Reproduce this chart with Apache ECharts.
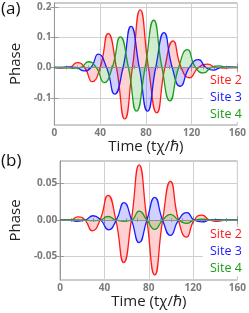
<!DOCTYPE html>
<html><head><meta charset="utf-8">
<script src="https://cdn.jsdelivr.net/npm/echarts@6/dist/echarts.min.js"></script>
<style>html,body{margin:0;padding:0;background:#fff}#c{width:249px;height:313px}</style>
</head><body><div id="c"></div>
<script>
// ---- data: [time, phase] at extrema and zero crossings ----
const timeTicks = [0, 40, 80, 120, 160];
const phaseTicksA = [-0.1, 0, 0.1, 0.2];
const phaseTicksB = [-0.05, 0, 0.05];
const siteNames = ['Site 2', 'Site 3', 'Site 4'];
const siteColors = ['#ff1a1a', '#1a1aff', '#1a9e1a'];

const a_site2 = [[0,0],[7,-0.002],[13,0],[20,0.016],[26.5,0],[33,-0.047],[40,0],[47,0.112],[54.2,0],[61.5,-0.17],[68.2,0],[75,0.19],[82.2,0],[89.5,-0.15],[96.6,0],[103.7,0.088],[110.8,0],[118,-0.034],[126,0],[134,0.011],[141,0],[148,-0.002],[155,0],[160,0]];
const a_site3 = [[0,0],[6,0],[12,0.002],[19,0],[25.6,-0.011],[32,0],[38.4,0.044],[45.6,0],[52.8,-0.088],[60,0],[67,0.136],[74.2,0],[81.4,-0.144],[88.6,0],[95.8,0.115],[103,0],[110,-0.062],[118,0],[126,0.026],[132.5,0],[139,-0.009],[145.5,0],[152,0.002],[160,0]];
const a_site4 = [[0,0],[9,0],[16,-0.003],[23,0],[29.7,0.019],[36.6,0],[43.5,-0.05],[50.6,0],[57.7,0.101],[64.7,0],[71.8,-0.144],[79.3,0],[86.8,0.156],[94,0],[101,-0.11],[108.6,0],[116.2,0.059],[123.4,0],[130.5,-0.018],[137.2,0],[144,0.005],[151,0],[160,0]];

const b_site2 = [[0,0],[9,0],[16,0.0046],[22.5,0],[29,-0.0147],[36,0],[43.3,0.034],[50.3,0],[57.4,-0.058],[64.3,0],[71.3,0.0757],[78.3,0],[85.4,-0.075],[92.5,0],[99.6,0.053],[106.8,0],[114,-0.0234],[121,0],[128,0.0069],[135,0],[142,-0.0015],[150,0],[160,0]];
const b_site3 = [[0,0],[8,0],[15,-0.0015],[22.5,0],[29.7,0.006],[36.7,0],[43.8,-0.0133],[50.7,0],[57.7,0.0239],[64.5,0],[71.3,-0.0307],[78.3,0],[85.4,0.0312],[92.5,0],[99.6,-0.021],[106.8,0],[114.5,0.0103],[121,0],[128,-0.0025],[135,0],[142,0.0008],[150,0],[160,0]];
const b_site4 = [[0,0],[16,0.0003],[22.5,0],[29,-0.0008],[36,0],[43.3,0.005],[50.3,0],[57.4,-0.0015],[64.3,0],[71.3,0.0124],[78.3,0],[85.4,-0.0127],[92.5,0],[99.6,0.0079],[106.8,0],[114,-0.0044],[121,0],[128,0.0012],[135,0],[160,0]];

const chart = echarts.init(document.getElementById('c'), null, {renderer: 'canvas'});
const labelFont = {color: '#7a7a7a', fontWeight: 'bold', fontSize: 10, fontFamily: 'Open Sans'};
const titleFont = {color: '#222', fontSize: 15, fontFamily: 'Open Sans'};

function xAx(gi) {
  return {
    type: 'value', gridIndex: gi, min: 0, max: 160, interval: 40,
    name: 'Time (tχ/ℏ)', nameLocation: 'middle', nameGap: gi === 0 ? 12 : 13,
    nameTextStyle: titleFont,
    axisLine: {show: true, lineStyle: {color: '#999', width: 1}},
    axisTick: {show: true, inside: true, length: 4, lineStyle: {color: '#999'}},
    minorTick: {show: true, splitNumber: 4, length: 2, lineStyle: {color: '#aaa'}},
    axisLabel: Object.assign({margin: 3, formatter: v => timeTicks.includes(v) ? String(v) : ''}, labelFont),
    splitLine: {show: true, lineStyle: {color: '#d0d0d0', width: 1}}
  };
}
function xTop(gi) {
  return {
    type: 'value', gridIndex: gi, position: 'top', min: 0, max: 160, interval: 40,
    axisLine: {show: true, lineStyle: {color: '#999', width: 1}},
    axisTick: {show: true, inside: true, length: 4, lineStyle: {color: '#999'}},
    minorTick: {show: true, splitNumber: 4, length: 2, lineStyle: {color: '#aaa'}},
    axisLabel: {show: false}, splitLine: {show: false}
  };
}
function yAx(gi, min, max, ticks, dec) {
  return {
    type: 'value', gridIndex: gi, min: min, max: max,
    name: 'Phase', nameLocation: 'middle', nameGap: 27, nameRotate: 90,
    nameTextStyle: titleFont,
    axisLine: {show: true, lineStyle: {color: '#999', width: 1}},
    axisTick: {show: true, inside: true, length: 4, customValues: ticks, lineStyle: {color: '#999'}},
    axisLabel: Object.assign({margin: 3, customValues: ticks, formatter: v => v.toFixed(dec)}, labelFont),
    splitLine: {show: true, lineStyle: {color: '#d0d0d0', width: 1}}
  };
}
function yRight(gi, min, max, ticks) {
  return {
    type: 'value', gridIndex: gi, position: 'right', min: min, max: max,
    axisLine: {show: true, lineStyle: {color: '#999', width: 1}},
    axisTick: {show: true, inside: true, length: 4, customValues: ticks, lineStyle: {color: '#999'}},
    axisLabel: {show: false, customValues: ticks}, splitLine: {show: false}
  };
}
function ser(name, data, i, gi, zeroLine) {
  const s = {
    name: name, type: 'line', xAxisIndex: gi, yAxisIndex: gi, data: data,
    smooth: 0.55, showSymbol: false, symbol: 'none',
    lineStyle: {color: siteColors[i], width: 1.3},
    itemStyle: {color: siteColors[i]},
    areaStyle: {color: siteColors[i], opacity: 0.2, origin: 0},
    z: 2 + i
  };
  if (zeroLine) {
    s.markLine = {silent: true, symbol: 'none', label: {show: false},
      lineStyle: {color: '#999', type: 'solid', width: 1.2, opacity: 0.6}, data: [{yAxis: 0}]};
  }
  return s;
}
function leg(top) {
  return {
    orient: 'vertical', left: 203, top: top, padding: [1, 2, 1, 2], itemGap: 4,
    icon: 'none', itemWidth: 0, itemHeight: 12, backgroundColor: '#fff',
    selectedMode: false,
    data: siteNames.map((n, i) => ({name: n, textStyle: {color: siteColors[i]}})),
    textStyle: {fontSize: 12.5, fontFamily: 'Open Sans', padding: 0}
  };
}

chart.setOption({
  animation: false,
  grid: [
    {left: 45, right: 8, top: 3, height: 122, show: true, borderColor: '#999', borderWidth: 1, backgroundColor: 'transparent'},
    {left: 45, right: 8, top: 161, height: 119, show: true, borderColor: '#999', borderWidth: 1, backgroundColor: 'transparent'}
  ],
  xAxis: [xAx(0), xAx(1), xTop(0), xTop(1)],
  yAxis: [yAx(0, -0.19, 0.213, phaseTicksA, 1), yAx(1, -0.082, 0.081, phaseTicksB, 2),
          yRight(0, -0.19, 0.213, phaseTicksA), yRight(1, -0.082, 0.081, phaseTicksB)],
  legend: [leg(73), leg(227)],
  series: [
    ser(siteNames[0], a_site2, 0, 0, true), ser(siteNames[1], a_site3, 1, 0), ser(siteNames[2], a_site4, 2, 0),
    ser(siteNames[0], b_site2, 0, 1, true), ser(siteNames[1], b_site3, 1, 1), ser(siteNames[2], b_site4, 2, 1)
  ],
  graphic: [
    {type: 'text', left: 1, top: 1, style: {text: '(a)', fontSize: 17, fontFamily: 'Open Sans', fill: '#111'}},
    {type: 'text', left: 1, top: 153, style: {text: '(b)', fontSize: 17, fontFamily: 'Open Sans', fill: '#111'}}
  ]
});
</script></body></html>
